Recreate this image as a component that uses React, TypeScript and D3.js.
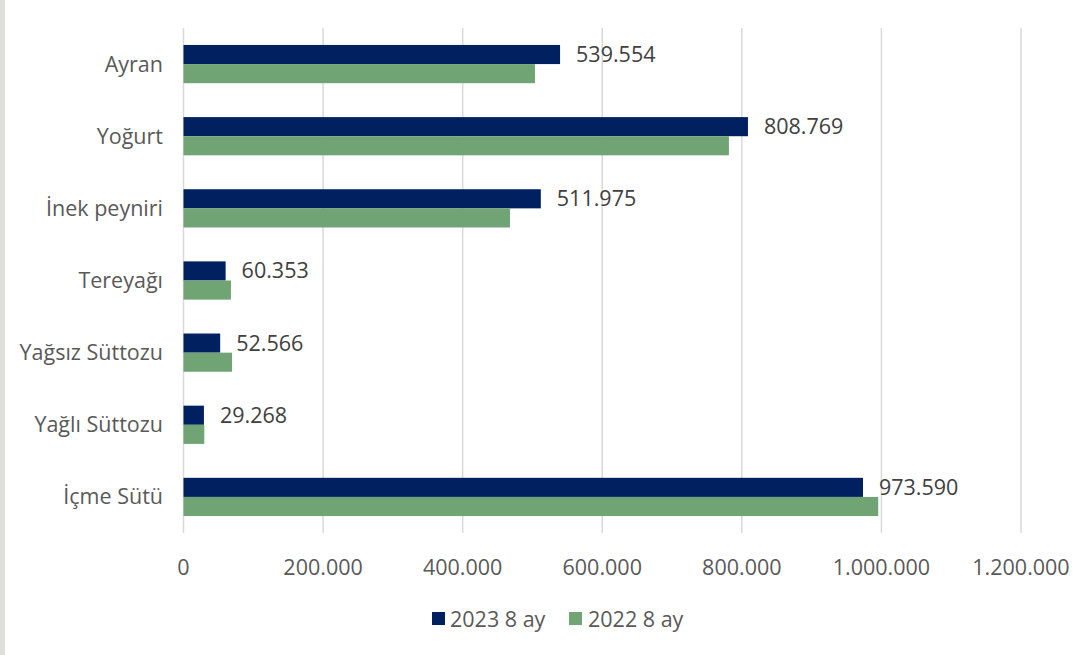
import React from "react";
import * as d3 from "d3";

const categories = ["Ayran", "Yoğurt", "İnek peyniri", "Tereyağı", "Yağsız Süttozu", "Yağlı Süttozu", "İçme Sütü"];
const series2023 = [539554, 808769, 511975, 60353, 52566, 29268, 973590];
const series2022 = [503600, 781500, 467800, 68000, 69500, 29800, 995400];
const seriesNames = ["2023 8 ay", "2022 8 ay"];
const ticks = [0, 200000, 400000, 600000, 800000, 1000000, 1200000];

const W = 1092, H = 655;
const FONT = "'Open Sans', 'Noto Sans', sans-serif";
const C1 = "#002060", C2 = "#71a474";

const fmt = (v: number) => (v === 0 ? "0" : d3.format(",")(v).replace(/,/g, "."));

export default function App() {
  const x = d3.scaleLinear().domain([0, 1200000]).range([183.5, 1021]);
  const y = d3.scaleBand().domain(categories).range([28, 533]).paddingInner(0.47).paddingOuter(0.235);
  const bw = y.bandwidth() / 2;
  return (
    <svg width={W} height={H} style={{ position: "absolute", left: 0, top: 0, background: "#fff" }}>
      <rect x={0} y={0} width={5} height={H} fill="#dededa" />
      {ticks.map((t) => (
        <g key={t}>
          <line x1={x(t)} x2={x(t)} y1={28} y2={533} stroke="#d9d9d9" strokeWidth={1.5} />
          <text x={x(t)} y={567} dy="0.35em" textAnchor="middle" fontFamily={FONT} fontSize={21.5} fill="#595959">{fmt(t)}</text>
        </g>
      ))}
      {categories.map((c, i) => {
        const y0 = y(c)!;
        return (
          <g key={c}>
            <rect x={x(0)} y={y0} width={x(series2023[i]) - x(0)} height={bw} fill={C1} />
            <rect x={x(0)} y={y0 + bw} width={x(series2022[i]) - x(0)} height={bw} fill={C2} />
            <text x={x(series2023[i]) + 16} y={y0 + bw / 2} dy="0.35em" fontFamily={FONT} fontSize={21.5} fill="#404040">{fmt(series2023[i])}</text>
            <text x={163} y={y0 + bw} dy="0.35em" textAnchor="end" fontFamily={FONT} fontSize={21.5} fill="#595959">{c}</text>
          </g>
        );
      })}
      <g>
        <rect x={432} y={612} width={13} height={13} fill={C1} />
        <text x={450} y={619} dy="0.35em" fontFamily={FONT} fontSize={21.5} fill="#595959">{seriesNames[0]}</text>
        <rect x={569} y={612} width={13} height={13} fill={C2} />
        <text x={588} y={619} dy="0.35em" fontFamily={FONT} fontSize={21.5} fill="#595959">{seriesNames[1]}</text>
      </g>
    </svg>
  );
}
